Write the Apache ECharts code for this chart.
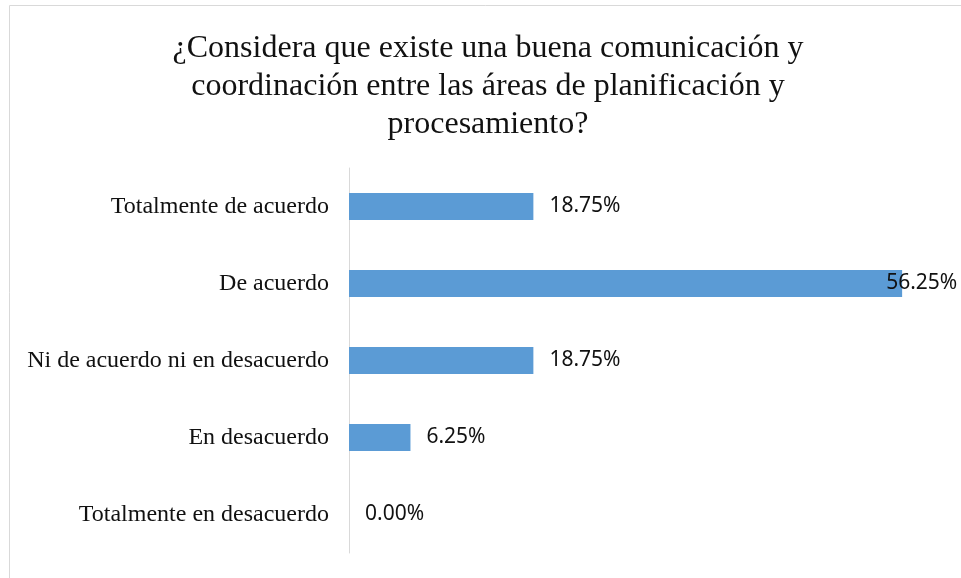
<!DOCTYPE html>
<html>
<head>
<meta charset="utf-8">
<script src="https://cdn.jsdelivr.net/npm/echarts@6/dist/echarts.min.js"></script>
<style>html,body{margin:0;padding:0;background:#fff}#c{width:961px;height:578px}</style>
</head>
<body>
<div id="c"></div>
<script>
var titleLines = ['¿Considera que existe una buena comunicación y', 'coordinación entre las áreas de planificación y', 'procesamiento?'];
var categories = ['Totalmente de acuerdo', 'De acuerdo', 'Ni de acuerdo ni en desacuerdo', 'En desacuerdo', 'Totalmente en desacuerdo'];
var values = [18.75, 56.25, 18.75, 6.25, 0.00];

var chart = echarts.init(document.getElementById('c'));
var data = values.map(function (v, i) {
  var d = { value: v };
  if (v > 50) d.label = { offset: [-32, 0] };
  return d;
});
chart.setOption({
  animation: false,
  title: {
    text: titleLines.join('\n'),
    left: 483, top: 25, textAlign: 'center',
    textStyle: { fontFamily: 'Liberation Serif', fontSize: 32, fontWeight: 'normal', color: '#111', lineHeight: 38 }
  },
  graphic: [{
    type: 'rect', shape: { x: 9.5, y: 5.5, width: 1000, height: 1000 },
    style: { fill: 'none', stroke: '#d9d9d9', lineWidth: 1 }, silent: true
  }],
  grid: { left: 349, right: 22, top: 168, bottom: 25, containLabel: false },
  xAxis: { type: 'value', min: 0, max: 60, show: false },
  yAxis: {
    type: 'category', data: categories, inverse: true,
    axisLine: { lineStyle: { color: '#d9d9d9', width: 1 } },
    axisTick: { show: false },
    axisLabel: { margin: 20, fontFamily: 'Liberation Serif', fontSize: 24, color: '#111' }
  },
  series: [{
    type: 'bar', data: data, barCategoryGap: '65%',
    itemStyle: { color: '#5b9bd5' },
    label: {
      show: true, position: 'right', distance: 16,
      fontFamily: 'Noto Sans', fontSize: 21, color: '#111',
      formatter: function (p) { return p.value.toFixed(2) + '%'; }
    }
  }]
});
</script>
</body>
</html>
